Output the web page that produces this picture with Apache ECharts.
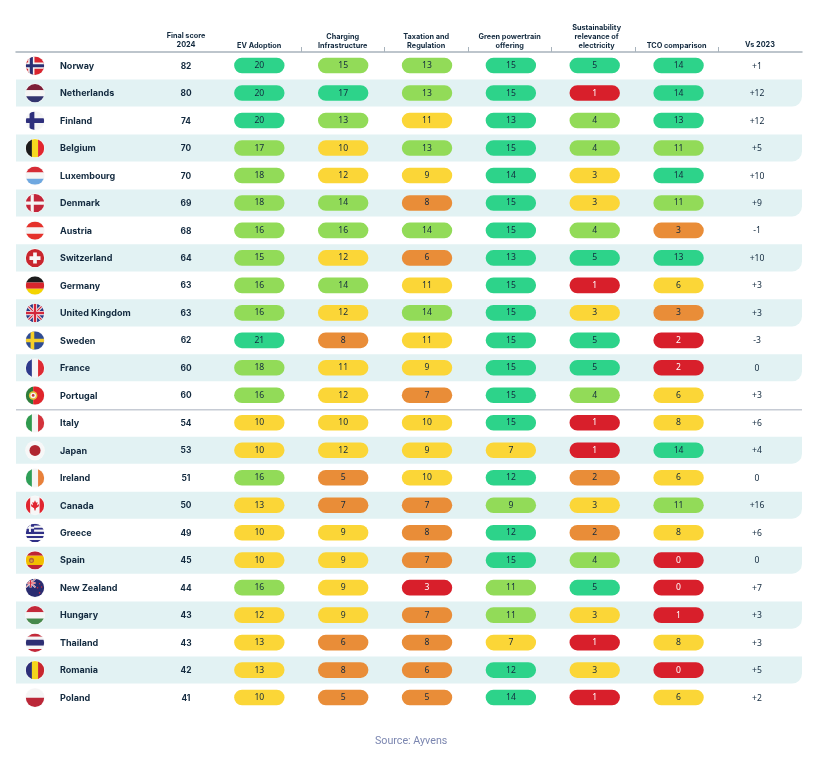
<!DOCTYPE html>
<html>
<head>
<meta charset="utf-8">
<title>Final score 2024</title>
<script src="https://cdn.jsdelivr.net/npm/echarts@6/dist/echarts.min.js"></script>
<style>
  html, body { margin: 0; padding: 0; background: #fff; }
  #chart { width: 816px; height: 760px; }
</style>
</head>
<body>
<div id="chart"></div>
<script>
// table data, one value per country
const countries = ['Norway', 'Netherlands', 'Finland', 'Belgium', 'Luxembourg', 'Denmark', 'Austria', 'Switzerland', 'Germany', 'United Kingdom', 'Sweden', 'France', 'Portugal', 'Italy', 'Japan', 'Ireland', 'Canada', 'Greece', 'Spain', 'New Zealand', 'Hungary', 'Thailand', 'Romania', 'Poland'];
const finalScore = [82, 80, 74, 70, 70, 69, 68, 64, 63, 63, 62, 60, 60, 54, 53, 51, 50, 49, 45, 44, 43, 43, 42, 41];
const evAdoption = [20, 20, 20, 17, 18, 18, 16, 15, 16, 16, 21, 18, 16, 10, 10, 16, 13, 10, 10, 16, 12, 13, 13, 10];
const charging = [15, 17, 13, 10, 12, 14, 16, 12, 14, 12, 8, 11, 12, 10, 12, 5, 7, 9, 9, 9, 9, 6, 8, 5];
const taxation = [13, 13, 11, 13, 9, 8, 14, 6, 11, 14, 11, 9, 7, 10, 9, 10, 7, 8, 7, 3, 7, 8, 6, 5];
const greenOffering = [15, 15, 13, 15, 14, 15, 15, 13, 15, 15, 15, 15, 15, 15, 7, 12, 9, 12, 15, 11, 11, 7, 12, 14];
const sustainability = [5, 1, 4, 4, 3, 3, 4, 5, 1, 3, 5, 5, 4, 1, 1, 2, 3, 2, 4, 5, 3, 1, 3, 1];
const tcoComparison = [14, 14, 13, 11, 14, 11, 3, 13, 6, 3, 2, 2, 6, 8, 14, 6, 11, 8, 0, 0, 1, 8, 0, 6];
const vs2023 = ['+1', '+12', '+12', '+5', '+10', '+9', '-1', '+10', '+3', '+3', '-3', '0', '+3', '+6', '+4', '0', '+16', '+6', '0', '+7', '+3', '+3', '+5', '+2'];

const scoreColumns = ['EV Adoption', 'Charging\nInfrastructure', 'Taxation and\nRegulation', 'Green powertrain\noffering', 'Sustainability\nrelevance of\nelectricity', 'TCO comparison'];
const columnValues = [evAdoption, charging, taxation, greenOffering, sustainability, tcoComparison];
// lowest score for dark green, light green, yellow, orange; anything below is red
const columnBands = [[20, 15, 10, 5], [17, 13, 9, 5], [15, 13, 9, 5], [12, 8, 7, 5], [5, 4, 3, 2], [13, 11, 6, 3]];
const shadedRows = [1, 3, 5, 7, 9, 11, 14, 16, 18, 20, 22];
const lastRowAboveDivider = 12;

const bandColors = ['#2dd38a', '#92db58', '#fbd637', '#e98d38', '#d81f2b'];
const INK = '#12293e';
const TITLE_FONT = 'Inter';
const NUM_FONT = '"Noto Sans"';
const TABLE_LEFT = 16, TABLE_RIGHT = 802, TABLE_TOP = 52, TABLE_H = 659.5;
const FLAG_X = 35, NAME_X = 60, FINAL_X = 186, VS_X = 757;
const FLAG_R = 9.2;

function bandOf(col, score) {
  const limits = columnBands[col];
  for (let i = 0; i < limits.length; i++) {
    if (score >= limits[i]) return i;
  }
  return 4;
}

// flag pieces, drawn in -1..1 units and clipped to a circle
function flagParts(name, cx, cy) {
  const out = [];
  const X = v => cx + v * FLAG_R, Y = v => cy + v * FLAG_R;
  const rect = (x0, y0, x1, y1, fill) => out.push({ type: 'rect', shape: { x: X(x0), y: Y(y0), width: (x1 - x0) * FLAG_R, height: (y1 - y0) * FLAG_R }, style: { fill } });
  const line = (x0, y0, x1, y1, stroke, w) => out.push({ type: 'line', shape: { x1: X(x0), y1: Y(y0), x2: X(x1), y2: Y(y1) }, style: { stroke, lineWidth: w, fill: null } });
  const dot = (x, y, r, fill) => out.push({ type: 'circle', shape: { cx: X(x), cy: Y(y), r: r * FLAG_R }, style: { fill } });
  const poly = (pts, fill) => out.push({ type: 'polygon', shape: { points: pts.map(p => [X(p[0]), Y(p[1])]) }, style: { fill } });
  const rows = (colors, weights) => {
    const total = weights ? weights.reduce((a, b) => a + b, 0) : colors.length;
    let at = -1;
    colors.forEach((c, i) => {
      const h = 2 * (weights ? weights[i] : 1) / total;
      rect(-1, at, 1, at + h, c);
      at += h;
    });
  };
  const cols = colors => colors.forEach((c, i) => {
    const w = 2 / colors.length;
    rect(-1 + i * w, -1, -1 + (i + 1) * w, 1, c);
  });
  const cross = (x, c, w) => { rect(x - w, -1, x + w, 1, c); rect(-1, -w, 1, w, c); };
  const jack = (x0, y0, x1, y1, k) => {
    rect(x0, y0, x1, y1, '#2b3a84');
    line(x0, y0, x1, y1, '#f5f5f5', 3 * k); line(x0, y1, x1, y0, '#f5f5f5', 3 * k);
    line(x0, y0, x1, y1, '#d3283a', 1.1 * k); line(x0, y1, x1, y0, '#d3283a', 1.1 * k);
    const mx = (x0 + x1) / 2, my = (y0 + y1) / 2;
    line(mx, y0, mx, y1, '#f5f5f5', 4.2 * k); line(x0, my, x1, my, '#f5f5f5', 4.2 * k);
    line(mx, y0, mx, y1, '#d3283a', 2.4 * k); line(x0, my, x1, my, '#d3283a', 2.4 * k);
  };

  switch (name) {
    case 'Norway': rect(-1, -1, 1, 1, '#d9252f'); cross(-0.4, '#f5f5f5', 0.34); cross(-0.4, '#2a2f73', 0.17); break;
    case 'Netherlands': rows(['#7d1f37', '#f5f5f5', '#33356f']); break;
    case 'Finland': rect(-1, -1, 1, 1, '#f5f5f5'); cross(-0.33, '#2e2f7c', 0.26); break;
    case 'Belgium': cols(['#1b1b1b', '#f6d91f', '#e1262e']); break;
    case 'Luxembourg': rows(['#d62c36', '#f5f5f5', '#6fa8e0']); break;
    case 'Denmark': rect(-1, -1, 1, 1, '#c3263a'); cross(-0.3, '#f5f5f5', 0.17); break;
    case 'Austria': rows(['#e5312b', '#f5f5f5', '#e5312b']); break;
    case 'Switzerland': rect(-1, -1, 1, 1, '#c8262e'); rect(-0.2, -0.6, 0.2, 0.6, '#f7f7f7'); rect(-0.6, -0.2, 0.6, 0.2, '#f7f7f7'); break;
    case 'Germany': rows(['#1c1c1c', '#d8262d', '#f4d400']); break;
    case 'United Kingdom': jack(-1, -1, 1, 1, 1); break;
    case 'Sweden': rect(-1, -1, 1, 1, '#2f4c93'); cross(-0.28, '#f4cf2a', 0.2); break;
    case 'France': cols(['#2e3a8c', '#f5f5f5', '#dd2a33']); break;
    case 'Portugal':
      rect(-1, -1, -0.2, 1, '#2e7d3a'); rect(-0.2, -1, 1, 1, '#e0252b');
      dot(-0.2, 0, 0.46, '#e8c33a'); dot(-0.2, 0, 0.3, '#f5f5f5'); dot(-0.2, 0, 0.15, '#c9353c');
      break;
    case 'Italy': cols(['#2f9a4e', '#f5f5f5', '#d3333c']); break;
    case 'Japan': rect(-1, -1, 1, 1, '#f7f7f7'); dot(0, 0, 0.6, '#b02530'); break;
    case 'Ireland': cols(['#2f9f58', '#f5f5f5', '#e8803a']); break;
    case 'Canada':
      rect(-1, -1, -0.5, 1, '#e0252f'); rect(-0.5, -1, 0.5, 1, '#f7f7f7'); rect(0.5, -1, 1, 1, '#e0252f');
      poly([[0, -0.55], [0.12, -0.28], [0.28, -0.36], [0.22, 0], [0.42, -0.14], [0.42, 0.08], [0.1, 0.3], [0.05, 0.55], [-0.05, 0.55], [-0.1, 0.3], [-0.42, 0.08], [-0.42, -0.14], [-0.22, 0], [-0.28, -0.36], [-0.12, -0.28]], '#e0252f');
      break;
    case 'Greece':
      rows(['#2f2f86', '#f5f5f5', '#2f2f86', '#f5f5f5', '#2f2f86', '#f5f5f5', '#2f2f86', '#f5f5f5', '#2f2f86']);
      rect(-1, -1, -0.1, -0.1, '#2f2f86'); rect(-0.66, -1, -0.44, -0.1, '#f5f5f5'); rect(-1, -0.66, -0.1, -0.44, '#f5f5f5');
      break;
    case 'Spain':
      rows(['#bf2433', '#f1bf00', '#bf2433'], [1, 2, 1]);
      dot(-0.38, 0, 0.28, '#b5623a'); dot(-0.38, 0.05, 0.14, '#d9a23a');
      break;
    case 'New Zealand':
      rect(-1, -1, 1, 1, '#2a2c70'); jack(-1, -1, 0.05, -0.05, 0.5);
      dot(0.5, -0.45, 0.08, '#d3283a'); dot(0.28, 0, 0.08, '#d3283a'); dot(0.72, -0.08, 0.08, '#d3283a'); dot(0.5, 0.55, 0.09, '#d3283a');
      break;
    case 'Hungary': rows(['#c3293a', '#f5f5f5', '#46894c']); break;
    case 'Thailand': rows(['#c3293a', '#f5f5f5', '#2d2f73', '#f5f5f5', '#c3293a'], [1, 1, 2, 1, 1]); break;
    case 'Romania': cols(['#2c2f78', '#f4d51c', '#c8262e']); break;
    case 'Poland': rows(['#f5f5f5', '#bb2738']); break;
  }
  return out;
}

// light band behind every other row, and the divider under the top group
function renderBand(params, api) {
  const row = api.value(1);
  const p = api.coord([TABLE_LEFT, row]);
  const h = api.size([0, 1])[1];
  const width = TABLE_RIGHT - TABLE_LEFT;
  if (api.value(2) === 1) {
    return { type: 'rect', shape: { x: p[0], y: p[1] - h / 2, width, height: h - 0.4, r: [0, 0, 10, 0] }, style: { fill: '#e2f2f3' } };
  }
  const y = p[1] + h / 2 + 0.5;
  return { type: 'line', shape: { x1: p[0], y1: y, x2: p[0] + width, y2: y }, style: { stroke: '#c6cbd4', lineWidth: 1.5 } };
}

function renderRow(params, api) {
  const row = api.value(0);
  const y = api.coord([TABLE_LEFT, row])[1];
  const fx = api.coord([FLAG_X, row])[0];
  const label = (x, text, align, weight, font, size) => ({
    type: 'text',
    style: { x, y: y + 0.4, text, align, verticalAlign: 'middle', fill: INK, fontFamily: font, fontWeight: weight, fontSize: size }
  });
  return {
    type: 'group',
    children: [
      { type: 'circle', shape: { cx: fx, cy: y, r: FLAG_R + 0.6 }, style: { fill: '#f9f9f9' } },
      { type: 'group', clipPath: { type: 'circle', shape: { cx: fx, cy: y, r: FLAG_R } }, children: flagParts(countries[row], fx, y) },
      label(api.coord([NAME_X, row])[0], countries[row], 'left', 700, TITLE_FONT, 9),
      label(api.coord([FINAL_X, row])[0], String(finalScore[row]), 'center', 700, TITLE_FONT, 8.4),
      label(api.coord([VS_X, row])[0], vs2023[row], 'center', 400, NUM_FONT, 8.6)
    ]
  };
}

function renderPill(params, api) {
  const p = api.coord([api.value(0), api.value(1)]);
  const band = bandOf(api.value(0), api.value(2));
  return {
    type: 'group',
    children: [
      { type: 'rect', shape: { x: p[0] - 25.2, y: p[1] - 8, width: 50.4, height: 15.6, r: 7.8 }, style: { fill: bandColors[band] } },
      { type: 'text', style: { x: p[0], y: p[1] - 0.1, text: String(api.value(2)), align: 'center', verticalAlign: 'middle', fill: band === 4 ? '#ffffff' : INK, fontFamily: NUM_FONT, fontSize: 8.6 } }
    ]
  };
}

const bandData = shadedRows.map(r => [TABLE_LEFT, r, 1]).concat([[TABLE_LEFT, lastRowAboveDivider, 0]]);
const rowData = countries.map((c, i) => [i]);
const pillData = [];
columnValues.forEach((values, col) => values.forEach((v, row) => pillData.push([col, row, v])));

const hiddenRows = i => ({ type: 'category', inverse: true, show: false, gridIndex: i, data: countries });
const headerText = { color: INK, fontFamily: TITLE_FONT, fontWeight: 700, fontSize: 7.3, lineHeight: 8.8 };

const chart = echarts.init(document.getElementById('chart'));
chart.setOption({
  animation: false,
  backgroundColor: '#ffffff',
  title: {
    text: 'Source: Ayvens', left: 370, top: 731,
    textStyle: { color: '#7b86b0', fontFamily: 'Roboto', fontWeight: 400, fontSize: 10.7 }
  },
  grid: [
    { left: TABLE_LEFT, top: TABLE_TOP, width: TABLE_RIGHT - TABLE_LEFT, height: TABLE_H },
    { left: 217.5, top: TABLE_TOP, width: 500.8, height: TABLE_H },
    { left: 217.4, top: TABLE_TOP, width: 503.1, height: TABLE_H }
  ],
  xAxis: [
    {
      type: 'value', gridIndex: 0, position: 'top', min: TABLE_LEFT, max: TABLE_RIGHT,
      axisLine: { show: true, onZero: false, lineStyle: { color: '#a8b3bc', width: 1.5 } },
      axisTick: { show: false }, axisLabel: { show: false }, splitLine: { show: false }
    },
    {
      type: 'category', gridIndex: 1, position: 'top', data: scoreColumns,
      axisLine: { show: false, onZero: false },
      axisTick: { show: true, length: 5, interval: i => i > 0, lineStyle: { color: '#a8b3bc', width: 1 } },
      axisLabel: Object.assign({
        interval: 0, margin: 2,
        // the three-line header sits a little right of its column
        formatter: v => v.startsWith('Sustain') ? v.split('\n').map(l => '{shift|' + l + '}').join('\n') : v,
        rich: { shift: Object.assign({ padding: [0, 0, 0, 7] }, headerText) }
      }, headerText)
    },
    { type: 'category', gridIndex: 2, show: false, data: scoreColumns }
  ],
  yAxis: [hiddenRows(0), hiddenRows(1), hiddenRows(2)],
  graphic: [
    { type: 'text', x: FINAL_X, y: 49, style: { text: 'Final score\n2024', align: 'center', verticalAlign: 'bottom', fill: INK, fontFamily: TITLE_FONT, fontWeight: 700, fontSize: 7.3, lineHeight: 8.8 } },
    { type: 'text', x: 760, y: 49, style: { text: 'Vs 2023', align: 'center', verticalAlign: 'bottom', fill: INK, fontFamily: TITLE_FONT, fontWeight: 700, fontSize: 7.3, lineHeight: 8.8 } }
  ],
  series: [
    { type: 'custom', xAxisIndex: 0, yAxisIndex: 0, z: 1, silent: true, data: bandData, encode: { x: 0, y: 1 }, renderItem: renderBand, clip: false },
    { type: 'custom', xAxisIndex: 0, yAxisIndex: 0, z: 2, silent: true, data: rowData, encode: { y: 0 }, renderItem: renderRow, clip: false },
    { type: 'custom', xAxisIndex: 2, yAxisIndex: 2, z: 3, silent: true, data: pillData, encode: { x: 0, y: 1 }, renderItem: renderPill, clip: false }
  ]
});
</script>
</body>
</html>
